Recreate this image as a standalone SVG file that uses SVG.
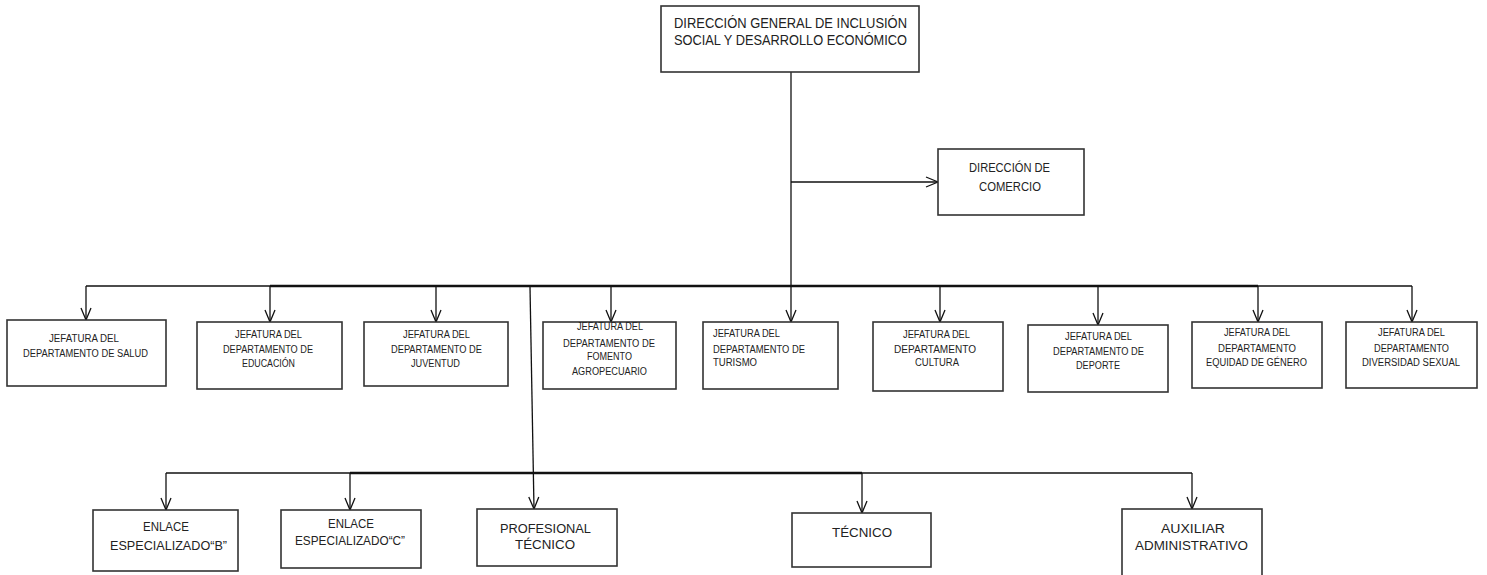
<svg xmlns="http://www.w3.org/2000/svg" width="1487" height="575" viewBox="0 0 1487 575">
<style>
.box{fill:#fff;stroke:#333;stroke-width:1.6}
.t{font-family:"Liberation Sans",Arial,sans-serif;fill:#222}
.s{font-size:10px}
.m{font-size:12.5px}
.l{font-size:14px}
.c{text-anchor:middle}
.ln{fill:none;stroke:#111;stroke-width:1.3}
.th{fill:none;stroke:#111;stroke-width:2.6}
</style>
<defs>
<marker id="arr" viewBox="-1 -1 14 12" refX="12" refY="5" markerWidth="14" markerHeight="12" markerUnits="userSpaceOnUse" orient="auto">
<path d="M0,0 L12,5 L0,10" fill="none" stroke="#111" stroke-width="1.3"/>
</marker>
</defs>
<g id="connectors">
<path class="ln" d="M791,72 V322" marker-end="url(#arr)"/>
<path class="ln" d="M791,182 H938" marker-end="url(#arr)"/>
<path class="ln" d="M86,286 H1412"/>
<path class="th" d="M270,286 H1258"/>
<path class="ln" d="M86,286 V320" marker-end="url(#arr)"/>
<path class="ln" d="M270,286 V322" marker-end="url(#arr)"/>
<path class="ln" d="M436,286 V322" marker-end="url(#arr)"/>
<path class="ln" d="M611,286 V322" marker-end="url(#arr)"/>
<path class="ln" d="M940,286 V322" marker-end="url(#arr)"/>
<path class="ln" d="M1098,286 V325" marker-end="url(#arr)"/>
<path class="ln" d="M1258,286 V322" marker-end="url(#arr)"/>
<path class="ln" d="M1412,286 V322" marker-end="url(#arr)"/>
<path class="ln" d="M530,287 L534,509" marker-end="url(#arr)"/>
<path class="ln" d="M166,473 H1192"/>
<path class="th" d="M350,473 H862"/>
<path class="ln" d="M166,473 V510" marker-end="url(#arr)"/>
<path class="ln" d="M350,473 V510" marker-end="url(#arr)"/>
<path class="ln" d="M862,473 V513" marker-end="url(#arr)"/>
<path class="ln" d="M1192,473 V509" marker-end="url(#arr)"/>
</g>
<g id="direccion-general">
<rect class="box" x="661" y="6" width="258" height="66"/>
<text class="t l" x="674" y="28" textLength="233" lengthAdjust="spacingAndGlyphs">DIRECCIÓN GENERAL DE INCLUSIÓN</text>
<text class="t l" x="674" y="45" textLength="233" lengthAdjust="spacingAndGlyphs">SOCIAL Y DESARROLLO ECONÓMICO</text>
</g>
<g id="direccion-comercio">
<rect class="box" x="938" y="149" width="146" height="66"/>
<text class="t m" x="969" y="172" textLength="81" lengthAdjust="spacingAndGlyphs">DIRECCIÓN DE</text>
<text class="t m" x="979" y="191" textLength="62" lengthAdjust="spacingAndGlyphs">COMERCIO</text>
</g>
<g id="salud">
<rect class="box" x="7" y="320" width="159" height="66"/>
<text class="t s" x="49" y="342" textLength="70" lengthAdjust="spacingAndGlyphs">JEFATURA DEL</text>
<text class="t s" x="23" y="357" textLength="125" lengthAdjust="spacingAndGlyphs">DEPARTAMENTO DE SALUD</text>
</g>
<g id="educacion">
<rect class="box" x="197" y="322" width="145" height="67"/>
<text class="t s" x="235" y="338" textLength="67" lengthAdjust="spacingAndGlyphs">JEFATURA DEL</text>
<text class="t s" x="223" y="353" textLength="90" lengthAdjust="spacingAndGlyphs">DEPARTAMENTO DE</text>
<text class="t s" x="242" y="367" textLength="53" lengthAdjust="spacingAndGlyphs">EDUCACIÓN</text>
</g>
<g id="juventud">
<rect class="box" x="364" y="322" width="144" height="64"/>
<text class="t s" x="403" y="338" textLength="67" lengthAdjust="spacingAndGlyphs">JEFATURA DEL</text>
<text class="t s" x="391" y="353" textLength="91" lengthAdjust="spacingAndGlyphs">DEPARTAMENTO DE</text>
<text class="t s" x="411" y="367" textLength="49" lengthAdjust="spacingAndGlyphs">JUVENTUD</text>
</g>
<g id="fomento">
<rect class="box" x="543" y="322" width="133" height="67"/>
<text class="t s" x="577" y="330" textLength="66" lengthAdjust="spacingAndGlyphs">JEFATURA DEL</text>
<text class="t s" x="563" y="347" textLength="92" lengthAdjust="spacingAndGlyphs">DEPARTAMENTO DE</text>
<text class="t s" x="587" y="360" textLength="45" lengthAdjust="spacingAndGlyphs">FOMENTO</text>
<text class="t s" x="572" y="375" textLength="75" lengthAdjust="spacingAndGlyphs">AGROPECUARIO</text>
</g>
<g id="turismo">
<rect class="box" x="703" y="322" width="135" height="67"/>
<text class="t s" x="713" y="337" textLength="67" lengthAdjust="spacingAndGlyphs">JEFATURA DEL</text>
<text class="t s" x="713" y="353" textLength="92" lengthAdjust="spacingAndGlyphs">DEPARTAMENTO DE</text>
<text class="t s" x="713" y="366" textLength="44" lengthAdjust="spacingAndGlyphs">TURISMO</text>
</g>
<g id="cultura">
<rect class="box" x="873" y="322" width="130" height="69"/>
<text class="t s" x="903" y="338" textLength="67" lengthAdjust="spacingAndGlyphs">JEFATURA DEL</text>
<text class="t s" x="894" y="353" textLength="82" lengthAdjust="spacingAndGlyphs">DEPARTAMENTO</text>
<text class="t s" x="915" y="366" textLength="44" lengthAdjust="spacingAndGlyphs">CULTURA</text>
</g>
<g id="deporte">
<rect class="box" x="1028" y="325" width="140" height="67"/>
<text class="t s" x="1065" y="340" textLength="67" lengthAdjust="spacingAndGlyphs">JEFATURA DEL</text>
<text class="t s" x="1053" y="355" textLength="91" lengthAdjust="spacingAndGlyphs">DEPARTAMENTO DE</text>
<text class="t s" x="1076" y="369" textLength="44" lengthAdjust="spacingAndGlyphs">DEPORTE</text>
</g>
<g id="equidad">
<rect class="box" x="1192" y="322" width="130" height="66"/>
<text class="t s" x="1224" y="336" textLength="66" lengthAdjust="spacingAndGlyphs">JEFATURA DEL</text>
<text class="t s" x="1218" y="352" textLength="78" lengthAdjust="spacingAndGlyphs">DEPARTAMENTO</text>
<text class="t s" x="1206" y="366" textLength="101" lengthAdjust="spacingAndGlyphs">EQUIDAD  DE GÉNERO</text>
</g>
<g id="diversidad">
<rect class="box" x="1346" y="322" width="131" height="66"/>
<text class="t s" x="1378" y="336" textLength="67" lengthAdjust="spacingAndGlyphs">JEFATURA DEL</text>
<text class="t s" x="1374" y="352" textLength="75" lengthAdjust="spacingAndGlyphs">DEPARTAMENTO</text>
<text class="t s" x="1362" y="366" textLength="98" lengthAdjust="spacingAndGlyphs">DIVERSIDAD  SEXUAL</text>
</g>
<g id="enlace-b">
<rect class="box" x="93" y="510" width="145" height="61"/>
<text class="t m" x="143" y="531" textLength="46" lengthAdjust="spacingAndGlyphs">ENLACE</text>
<text class="t m" x="110" y="550" textLength="117" lengthAdjust="spacingAndGlyphs">ESPECIALIZADO“B”</text>
</g>
<g id="enlace-c">
<rect class="box" x="281" y="510" width="140" height="58"/>
<text class="t m" x="328" y="528" textLength="46" lengthAdjust="spacingAndGlyphs">ENLACE</text>
<text class="t m" x="295" y="545" textLength="110" lengthAdjust="spacingAndGlyphs">ESPECIALIZADO“C”</text>
</g>
<g id="profesional">
<rect class="box" x="477" y="509" width="140" height="57"/>
<text class="t m" x="500" y="533" textLength="91" lengthAdjust="spacingAndGlyphs">PROFESIONAL</text>
<text class="t m" x="515" y="549" textLength="60" lengthAdjust="spacingAndGlyphs">TÉCNICO</text>
</g>
<g id="tecnico">
<rect class="box" x="792" y="513" width="139" height="54"/>
<text class="t m" x="832" y="537" textLength="60" lengthAdjust="spacingAndGlyphs">TÉCNICO</text>
</g>
<g id="auxiliar">
<rect class="box" x="1122" y="509" width="140" height="80"/>
<text class="t m" x="1161" y="533" textLength="64" lengthAdjust="spacingAndGlyphs">AUXILIAR</text>
<text class="t m" x="1135" y="550" textLength="113" lengthAdjust="spacingAndGlyphs">ADMINISTRATIVO</text>
</g>
</svg>
